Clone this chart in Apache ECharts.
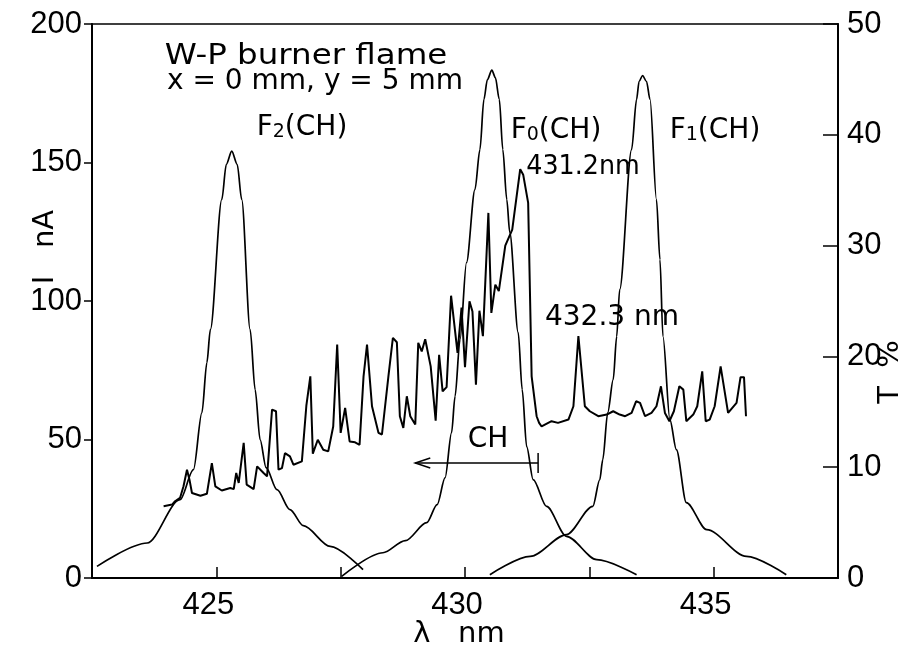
<!DOCTYPE html>
<html>
<head>
<meta charset="utf-8">
<script src="https://cdn.jsdelivr.net/npm/echarts@6.0.0/dist/echarts.min.js"></script>
<style>
html,body{margin:0;padding:0;background:#fff;}
#chart{width:915px;height:650px;}
</style>
</head>
<body>
<div id="chart"></div>
<script>
// ---- Data ----
// Measured CH emission spectrum (left axis, I in nA) vs wavelength (nm)
const spectrumLambda = [423.94,424.11,424.17,424.27,424.34,424.41,424.46,424.51,424.68,424.81,
  424.91,424.98,425.11,425.28,425.35,425.40,425.45,425.55,425.61,425.75,
  425.82,425.95,426.02,426.12,426.20,426.25,426.32,426.38,426.48,426.55,
  426.72,426.81,426.89,426.94,427.04,427.15,427.25,427.35,427.43,427.50,
  427.59,427.68,427.79,427.88,427.96,428.03,428.13,428.26,428.33,428.46,
  428.55,428.63,428.69,428.76,428.83,428.90,429.00,429.06,429.13,429.20,
  429.31,429.41,429.48,429.55,429.63,429.72,429.85,429.93,430.00,430.09,
  430.15,430.22,430.29,430.36,430.47,430.53,430.61,430.68,430.81,430.95,
  431.11,431.17,431.27,431.34,431.44,431.49,431.54,431.74,431.87,432.08,
  432.18,432.28,432.41,432.51,432.68,432.85,432.98,433.11,433.22,433.35,
  433.44,433.52,433.62,433.75,433.85,433.94,434.02,434.11,434.20,434.31,
  434.39,434.45,434.59,434.67,434.77,434.84,434.92,435.02,435.14,435.29,
  435.46,435.54,435.61,435.65];
const spectrumCurrent = [25.9,26.5,27.7,28.9,33.1,39.1,35.5,30.7,29.7,30.4,
  41.5,33.1,31.6,32.5,32.1,37.9,34.3,48.8,33.7,32.1,
  40.3,37.9,36.7,60.8,60.2,39.1,39.7,45.1,43.9,40.9,
  42.1,62.2,72.8,44.9,49.9,46.3,45.7,54.7,84.3,52.4,
  61.4,49.3,49.0,48.1,72.8,84.3,62.0,52.4,51.8,72.8,
  86.7,85.1,58.4,54.2,65.6,58.4,55.4,84.9,81.8,86.2,
  76.4,56.8,80.6,67.4,68.9,101.9,81.3,97.6,76.1,99.9,
  96.2,69.8,96.5,87.3,131.8,95.7,105.9,103.6,120.0,125.8,
  147.6,145.6,135.4,72.8,58.4,56.0,54.7,56.6,56.0,57.2,
  62.0,87.3,62.0,60.2,58.4,59.0,60.2,59.0,58.4,59.6,
  63.8,63.2,58.4,59.6,62.0,69.2,59.6,56.6,60.2,69.2,
  68.0,56.6,59.0,62.0,74.6,56.6,57.2,62.0,76.4,59.6,
  63.2,72.5,72.5,58.4];

// Filter transmission curves (right axis, T in %)
const f2Lambda = [422.60,423.61,424.27,424.54,424.71,424.81,424.88,425.11,425.20,425.31,425.42,425.51,425.68,425.78,425.88,426.00,426.22,426.48,426.75,427.29,427.95];
const f2T      = [1.05,3.16,7.07,9.78,14.93,19.44,22.42,34.16,37.32,38.52,37.32,34.16,22.42,17.0,12.49,9.96,7.97,6.17,4.72,2.85,0.75];

const f0Lambda = [427.52,428.35,428.80,429.23,429.44,429.60,429.73,429.80,429.90,430.03,430.20,430.30,430.38,430.45,430.54,430.61,430.69,430.76,430.84,430.90,431.07,431.15,431.24,431.37,431.64,432.04,432.65,433.45];
const f0T      = [0.14,2.28,3.37,4.99,6.62,9.06,13.12,16.40,21.52,28.47,35.06,38.67,43.19,44.99,45.83,45.17,43.19,38.67,34.16,31.18,22.15,17.0,11.85,8.88,6.46,3.76,1.65,0.30];

const f1Lambda = [430.50,431.31,432.04,432.57,432.71,432.77,432.87,432.98,433.05,433.11,433.35,433.45,433.50,433.57,433.65,433.72,433.85,433.92,433.98,434.12,434.25,434.45,434.86,435.66,436.46];
const f1T      = [0.30,1.95,3.91,6.46,8.88,10.68,14.93,17.90,21.81,26.03,38.67,43.19,44.81,45.35,44.81,43.19,34.16,28.74,21.81,14.29,11.58,6.80,4.36,1.95,0.30];

// Axis ticks
const xTickLabels = [425, 430, 435];
const leftTicks = [0, 50, 100, 150, 200];
const rightTicks = [0, 10, 20, 30, 40, 50];

// CH band arrow (from 431.47 nm back to 429.0 nm at I = 41.5 nA)
const chArrowFrom = 431.47;
const chArrowTo = 429.0;
const chArrowLevel = 41.5;

// ---- Chart ----
const FONT = 'Liberation Sans';
const TFONT = 'DejaVu Sans';
const zip = (xs, ys) => xs.map((x, i) => [x, ys[i]]);

const chart = echarts.init(document.getElementById('chart'), null, {renderer: 'canvas'});

const option = {
  animation: false,
  backgroundColor: '#ffffff',
  grid: {left: 92, right: 77, top: 24, bottom: 72, show: true, borderColor: '#000', borderWidth: 1.5,
         containLabel: false, outerBoundsMode: 'none'},
  xAxis: {
    type: 'value', min: 422.5, max: 437.5, interval: 2.5,
    axisLine: {show: true, onZero: false, lineStyle: {color: '#000', width: 2}},
    axisTick: {show: true, inside: true, length: 11, lineStyle: {color: '#000', width: 1.5}},
    axisLabel: {
      color: '#000', fontFamily: FONT, fontSize: 31, margin: 12, padding: [0, 16, 0, 0],
      showMinLabel: false, showMaxLabel: false,
      formatter: v => xTickLabels.some(t => Math.abs(t - v) < 1e-6) ? String(Math.round(v)) : ''
    },
    splitLine: {show: false}
  },
  yAxis: [
    {
      type: 'value', min: leftTicks[0], max: leftTicks[leftTicks.length - 1], interval: 50, position: 'left',
      axisLine: {show: true, onZero: false, lineStyle: {color: '#000', width: 2}},
      axisTick: {show: true, inside: false, length: 8, lineStyle: {color: '#000', width: 1.5}},
      axisLabel: {color: '#000', fontFamily: FONT, fontSize: 31, margin: 10},
      splitLine: {show: false}
    },
    {
      type: 'value', min: rightTicks[0], max: rightTicks[rightTicks.length - 1], interval: 10, position: 'right',
      axisLine: {show: true, onZero: false, lineStyle: {color: '#000', width: 2}},
      axisTick: {show: true, inside: true, length: 15, lineStyle: {color: '#000', width: 1.5}},
      axisLabel: {color: '#000', fontFamily: FONT, fontSize: 31, margin: 9},
      splitLine: {show: false}
    }
  ],
  series: [
    {
      name: 'CH emission', type: 'line', xAxisIndex: 0, yAxisIndex: 0,
      data: zip(spectrumLambda, spectrumCurrent), showSymbol: false, symbol: 'none',
      lineStyle: {color: '#000', width: 2}, z: 3
    },
    {
      name: 'F2(CH)', type: 'line', yAxisIndex: 1, data: zip(f2Lambda, f2T),
      symbol: 'none', smooth: 0.3, smoothMonotone: 'x', lineStyle: {color: '#000', width: 1.7}
    },
    {
      name: 'F0(CH)', type: 'line', yAxisIndex: 1, data: zip(f0Lambda, f0T),
      symbol: 'none', smooth: 0.3, smoothMonotone: 'x', lineStyle: {color: '#000', width: 1.7}
    },
    {
      name: 'F1(CH)', type: 'line', yAxisIndex: 1, data: zip(f1Lambda, f1T),
      symbol: 'none', smooth: 0.3, smoothMonotone: 'x', lineStyle: {color: '#000', width: 1.7}
    }
  ]
};
chart.setOption(option);

// ---- Annotations ----
function txt(text, x, y, size, extra, family) {
  return Object.assign({
    type: 'text', x: x, y: y, z: 10,
    style: {text: text, fill: '#000', font: size + 'px "' + (family || FONT) + '"', align: 'center', verticalAlign: 'middle'}
  }, extra || {});
}
function sub(main, s, tail, x, y, size) {
  return {
    type: 'text', x: x, y: y, z: 10,
    style: {
      text: '{a|' + main + '}{s|' + s + '}{a|' + tail + '}',
      align: 'center', verticalAlign: 'middle', fill: '#000',
      rich: {
        a: {fontSize: size, fontFamily: TFONT, fill: '#000', verticalAlign: 'bottom'},
        s: {fontSize: Math.round(size * 0.68), fontFamily: TFONT, fill: '#000', verticalAlign: 'bottom'}
      }
    }
  };
}

const p0 = chart.convertToPixel({xAxisIndex: 0, yAxisIndex: 0}, [chArrowFrom, chArrowLevel]);
const p1 = chart.convertToPixel({xAxisIndex: 0, yAxisIndex: 0}, [chArrowTo, chArrowLevel]);
const ls = {stroke: '#000', lineWidth: 1.5};

chart.setOption({
  graphic: [
    txt('W-P burner flame', 306, 56, 29, {scaleX: 1.12}, TFONT),
    txt('x = 0 mm, y = 5 mm', 315, 82, 28, null, TFONT),
    sub('F', '2', '(CH)', 302, 128, 28),
    sub('F', '0', '(CH)', 556, 131, 28),
    sub('F', '1', '(CH)', 715, 131, 28),
    txt('431.2nm', 583, 167, 27, {scaleX: 0.94}, TFONT),
    txt('432.3 nm', 612, 318, 28, null, TFONT),
    txt('CH', 488, 440, 28, null, TFONT),
    txt('\u03bb   nm', 459, 634, 29, null, TFONT),
    txt('I   nA', 45, 247, 29, {rotation: Math.PI / 2}, TFONT),
    txt('T  %', 890, 372, 29, {rotation: Math.PI / 2}, TFONT),
    {type: 'line', z: 10, shape: {x1: p0[0], y1: p0[1], x2: p1[0], y2: p1[1]}, style: ls},
    {type: 'line', z: 10, shape: {x1: p0[0], y1: p0[1] - 10, x2: p0[0], y2: p0[1] + 10}, style: ls},
    {type: 'polyline', z: 10, shape: {points: [[p1[0] + 15, p1[1] - 5], [p1[0], p1[1]], [p1[0] + 15, p1[1] + 5]]}, style: Object.assign({fill: 'none'}, ls)}
  ]
});
</script>
</body>
</html>
